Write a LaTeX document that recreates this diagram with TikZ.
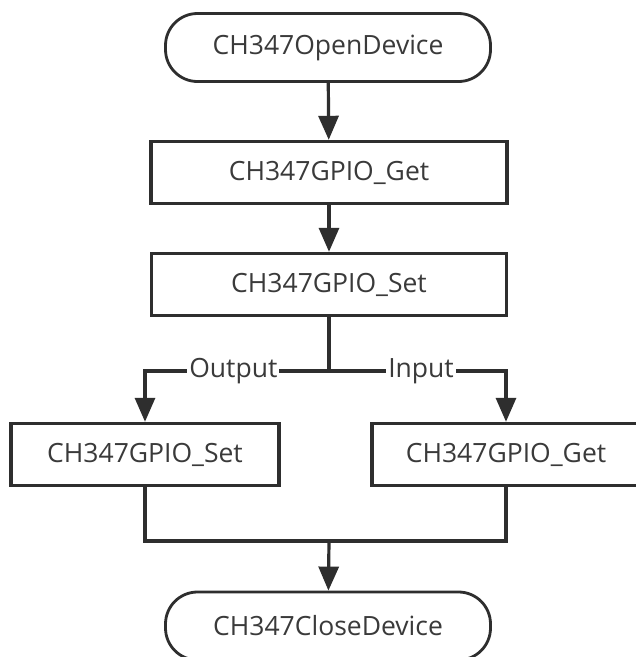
\documentclass[tikz,border=0pt]{standalone}
\usepackage{fontspec}
\setmainfont{Open Sans}
\usetikzlibrary{arrows.meta}
\definecolor{ink}{HTML}{2E2E2E}
\definecolor{txt}{HTML}{3A3A3A}
\tikzset{
  proc/.style={draw=ink, line width=3.4pt, fill=white, minimum height=62pt,
    inner sep=0pt, text=txt, font=\fontsize{26.5}{30}\selectfont},
  term/.style={proc, rounded corners=32pt, line width=2.8pt, minimum height=68pt},
  flow/.style={draw=ink, line width=3.2pt, -{Triangle[width=20pt,length=24pt]}},
  wire/.style={draw=ink, line width=3.2pt},
  tag/.style={fill=white, inner sep=2pt, text=txt, font=\fontsize{26.5}{30}\selectfont}
}
\begin{document}
\begin{tikzpicture}[x=1pt,y=-1pt]
\useasboundingbox (0,0) rectangle (636,657);
\clip (0,0) rectangle (636,657);
\fill[white] (0,0) rectangle (636,657);

\node[term, minimum width=325pt] (open) at (328,47.5) {CH347OpenDevice};
\node[proc, minimum width=356pt] (get1) at (329,172.5) {CH347GPIO\_Get};
\node[proc, minimum width=355pt] (set1) at (329,284.5) {CH347GPIO\_Set};
\node[proc, minimum width=268pt] (setL) at (145,454.5) {CH347GPIO\_Set};
\node[proc, minimum width=268pt] (getR) at (506,454.5) {CH347GPIO\_Get};
\node[term, minimum width=325pt] (close) at (328,626) {CH347CloseDevice};

\coordinate (split) at (329,371);
\coordinate (join) at (329,541);

\draw[flow] (open) -- (get1);
\draw[flow] (get1) -- (set1);
\draw[wire] (set1) -- (split);
\draw[flow] (split) -| node[tag, pos=0.26] {Output} (setL);
\draw[flow] (split) -| node[tag, pos=0.26] {Input} (getR);
\draw[wire] (setL) |- (join);
\draw[wire] (getR) |- (join);
\draw[flow] (join) -- (close);
\end{tikzpicture}
\end{document}
